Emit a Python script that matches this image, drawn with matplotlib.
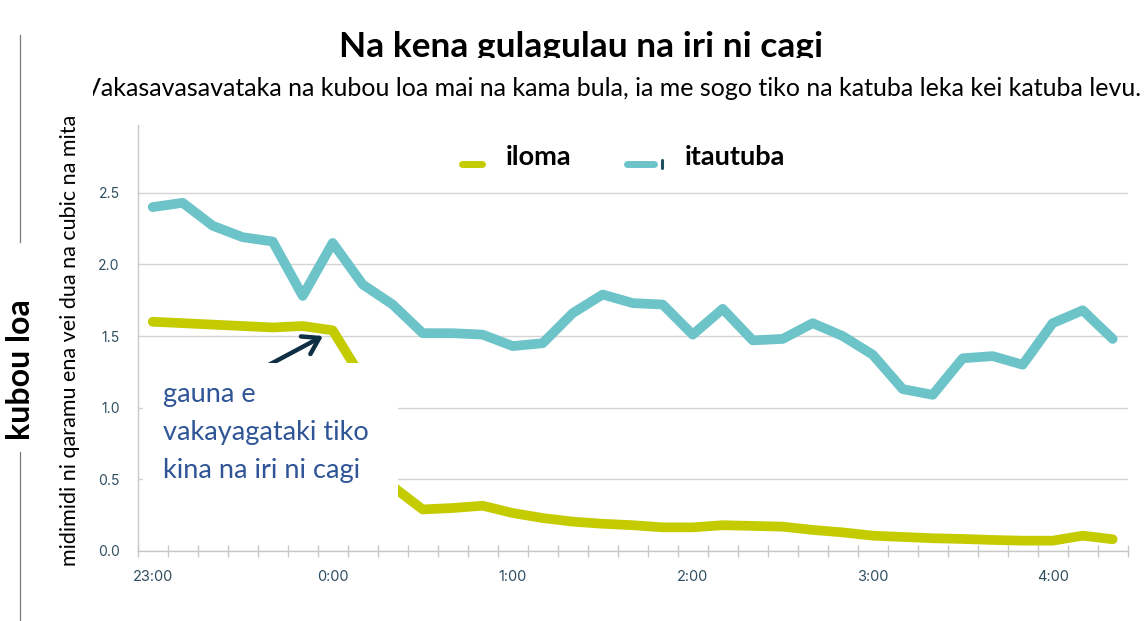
import matplotlib
matplotlib.use("Agg")
import matplotlib.pyplot as plt
from matplotlib.patches import Rectangle, FancyArrowPatch
from matplotlib.lines import Line2D
from matplotlib.transforms import Bbox
import numpy as np

# ---------------- data ----------------
times = ["23:00", "23:10", "23:20", "23:30", "23:40", "23:50",
         "0:00", "0:10", "0:20", "0:30", "0:40", "0:50",
         "1:00", "1:10", "1:20", "1:30", "1:40", "1:50",
         "2:00", "2:10", "2:20", "2:30", "2:40", "2:50",
         "3:00", "3:10", "3:20", "3:30", "3:40", "3:50",
         "4:00", "4:10", "4:20"]
iloma = [1.60, 1.59, 1.58, 1.57, 1.56, 1.57, 1.54, 1.20, 0.45, 0.29, 0.30,
         0.316, 0.265, 0.23, 0.205, 0.19, 0.18, 0.165, 0.165, 0.18, 0.175,
         0.17, 0.147, 0.13, 0.107, 0.098, 0.089, 0.084, 0.077, 0.072, 0.072,
         0.107, 0.082]
itautuba = [2.40, 2.43, 2.27, 2.19, 2.16, 1.78, 2.15, 1.86, 1.72, 1.52, 1.52,
            1.51, 1.43, 1.45, 1.66, 1.79, 1.73, 1.72, 1.51, 1.69, 1.47, 1.48,
            1.59, 1.50, 1.37, 1.13, 1.09, 1.345, 1.36, 1.30, 1.59, 1.68, 1.48]
hour_labels = ["23:00", "0:00", "1:00", "2:00", "3:00", "4:00"]
y_ticks = [0.0, 0.5, 1.0, 1.5, 2.0, 2.5]
series_names = ["iloma", "itautuba"]

title = "Na kena gulagulau na iri ni cagi"
subtitle = ("Vakasavasavataka na kubou loa mai na kama bula, ia me sogo tiko "
            "na katuba leka kei katuba levu.")
ylabel_main = "kubou loa"
ylabel_sub = "midimidi ni qaramu ena vei dua na cubic na mita"
note_lines = ["gauna e", "vakayagataki tiko", "kina na iri ni cagi"]

# ---------------- style ----------------
W, H = 1146, 621
C_ILOMA = "#C4CC00"
C_ITAU = "#6CC4C9"
C_TICK = "#2F4E62"
C_GRID = "#D4D4D4"
C_NOTE = "#2F5597"
C_ARROW = "#0F2F44"
TXT_FONT = ["Lato", "DejaVu Sans"]
TICK_FONT = ["Inter", "DejaVu Sans"]

fig = plt.figure(figsize=(W / 100, H / 100), dpi=100)
fig.patch.set_facecolor("white")


def fx(x):
    return x / W


def fy(y):
    return 1 - y / H


renderer = fig.canvas.get_renderer()


def fit(t, target):
    rot = t.get_rotation()
    t.set_rotation(0)
    w = t.get_window_extent(renderer).width
    t.set_fontsize(t.get_fontsize() * target / w)
    t.set_rotation(rot)
    return t


# ---------------- axes ----------------
ax_l, ax_r, ax_t, ax_b = 137.7, 1127.7, 125, 551
ax = fig.add_axes([fx(ax_l), fy(ax_b), fx(ax_r - ax_l), (ax_b - ax_t) / H])
x = np.arange(len(times))
ax.plot(x, itautuba, color=C_ITAU, lw=7, solid_capstyle="round",
        solid_joinstyle="round", zorder=3)
ax.plot(x, iloma, color=C_ILOMA, lw=7, solid_capstyle="round",
        solid_joinstyle="round", zorder=3)
ax.set_xlim(-0.5, len(times) - 0.5)
ax.set_ylim(0, 2.973)

for s in ["top", "right"]:
    ax.spines[s].set_visible(False)
for s in ["left", "bottom"]:
    ax.spines[s].set_color("#C8C8C8")
    ax.spines[s].set_linewidth(1.0)

ax.set_yticks(y_ticks)
ax.set_yticklabels([f"{v:.1f}" for v in y_ticks], fontfamily=TICK_FONT,
                   fontsize=10, color=C_TICK)
ax.tick_params(axis="y", length=0, pad=13)
ax.yaxis.grid(True, color=C_GRID, lw=1.0)
ax.set_axisbelow(True)

hour_pos = [times.index(h) for h in hour_labels]
ax.set_xticks(hour_pos)
ax.set_xticklabels(hour_labels, fontfamily=TICK_FONT, fontsize=10.5,
                   color=C_TICK)
ax.set_xticks(np.arange(-0.5, len(times), 1.0), minor=True)
ax.tick_params(axis="x", which="major", length=0, pad=14)
ax.tick_params(axis="x", which="minor", length=8, direction="inout",
               color="#C8C8C8", width=1.0)

# ---------------- titles ----------------
t_title = fig.text(fx(581), fy(57), title, ha="center", va="baseline",
                   fontfamily=TXT_FONT, fontweight="bold", fontsize=22,
                   color="black")
fit(t_title, 482)
t_title.set_clip_box(Bbox.from_extents(0, H - 58, W, H))
t_title.set_clip_on(True)

t_sub = fig.text(fx(1141), fy(96), subtitle, ha="right", va="baseline",
                 fontfamily=TXT_FONT, fontsize=15, color="black")
fit(t_sub, 1063)
t_sub.set_clip_box(Bbox.from_extents(93, 0, W, H))
t_sub.set_clip_on(True)

# ---------------- legend ----------------
fig.add_artist(Line2D([fx(461.5), fx(481.5)], [fy(164), fy(164)],
                      color=C_ILOMA, lw=5, solid_capstyle="round"))
fig.add_artist(Line2D([fx(626.5), fx(653.5)], [fy(164), fy(164)],
                      color=C_ITAU, lw=5, solid_capstyle="round"))
fig.add_artist(Line2D([fx(661.5), fx(661.5)], [fy(160), fy(168)],
                      color="#1F4E5F", lw=2.2, solid_capstyle="round"))
lg1 = fig.text(fx(506), fy(165), series_names[0], ha="left", va="baseline",
               fontfamily=TXT_FONT, fontweight="bold", fontsize=18)
fit(lg1, 66)
lg2 = fig.text(fx(685), fy(165), series_names[1], ha="left", va="baseline",
               fontfamily=TXT_FONT, fontweight="bold", fontsize=18)
fit(lg2, 101)

# ---------------- y labels + side lines ----------------
fig.add_artist(Line2D([fx(20), fx(20)], [fy(35), fy(242)], color="#7A7A7A",
                      lw=0.9))
fig.add_artist(Line2D([fx(20), fx(20)], [fy(452), fy(620)], color="#7A7A7A",
                      lw=0.9))
yl1 = fig.text(fx(21), fy(370), ylabel_main, rotation=90, ha="center",
               va="center", fontfamily=TXT_FONT, fontweight="bold",
               fontsize=20)
fit(yl1, 140)
yl2 = fig.text(fx(70), fy(340), ylabel_sub, rotation=90, ha="center",
               va="center", fontfamily=TXT_FONT, fontsize=14)
fit(yl2, 454)

# ---------------- annotation ----------------
arrow = FancyArrowPatch((fx(250), fy(375)), (fx(323), fy(336)),
                        transform=fig.transFigure,
                        arrowstyle="->,head_length=7,head_width=4.5",
                        color=C_ARROW, lw=3.2, zorder=0.8,
                        mutation_scale=1.6, shrinkA=0, shrinkB=0)
fig.add_artist(arrow)
fig.add_artist(Rectangle((fx(143), fy(545)), fx(398 - 143), (545 - 363) / H,
                         transform=fig.transFigure, facecolor="white",
                         edgecolor="none", zorder=1))
baselines = [402, 440, 478]
note_texts = []
for line, b in zip(note_lines, baselines):
    t = fig.text(fx(163), fy(b), line, ha="left", va="baseline",
                 fontfamily=TXT_FONT, fontsize=17, color=C_NOTE, zorder=2)
    note_texts.append(t)
fit(note_texts[1], 205)
for t in note_texts:
    t.set_fontsize(note_texts[1].get_fontsize())

fig.savefig("out.png", dpi=100, facecolor="white")
